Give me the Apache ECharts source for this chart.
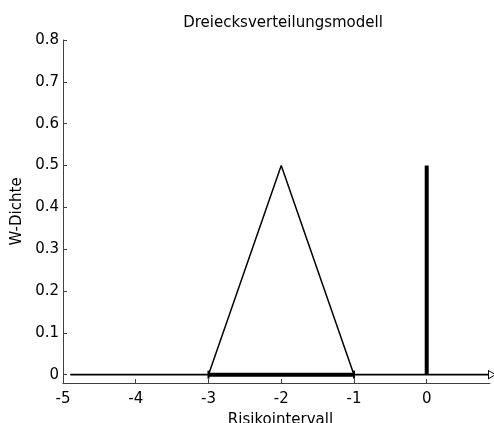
<!DOCTYPE html>
<html>
<head>
<meta charset="utf-8">
<script src="https://cdn.jsdelivr.net/npm/echarts@6/dist/echarts.min.js"></script>
<style>
html,body{margin:0;padding:0;background:#fff;}
#c{width:494px;height:423px;}
</style>
</head>
<body>
<div id="c"></div>
<script>
// Data
const xTicks = [-5, -4, -3, -2, -1, 0];
const yTicks = [0, 0.1, 0.2, 0.3, 0.4, 0.5, 0.6, 0.7, 0.8];
const baseLine = [[-4.9, 0], [0.87, 0]];
const intervalSegment = [[-3, 0], [-1, 0]];
const triangle = [[-3, 0], [-2, 0.5], [-1, 0]];
const spike = [[0, 0], [0, 0.5]];

const FONT = 'DejaVu Sans, Liberation Sans, Arial, sans-serif';
const FS = 15;
const axisColor = '#404040';

const chart = echarts.init(document.getElementById('c'));
chart.setOption({
  animation: false,
  backgroundColor: '#fff',
  title: {
    text: 'Dreiecksverteilungsmodell',
    left: 278, top: 11, textAlign: 'center',
    textStyle: { fontFamily: FONT, fontSize: FS, fontWeight: 'normal', color: '#000' }
  },
  grid: { left: 63, right: 4, top: 40, bottom: 40, containLabel: false, outerBoundsMode: 'none' },
  xAxis: {
    type: 'value', min: -5, max: 0.87,
    name: 'Risikointervall', nameLocation: 'middle', nameGap: 30,
    nameTextStyle: { fontFamily: FONT, fontSize: FS, color: '#000', padding: [0, 0, 0, 8] },
    splitLine: { show: false },
    axisLine: { show: true, onZero: false, lineStyle: { color: axisColor, width: 1 } },
    axisTick: { show: true, inside: true, length: 4, customValues: xTicks, lineStyle: { color: axisColor } },
    axisLabel: { customValues: xTicks, margin: 9, fontFamily: FONT, fontSize: FS, color: '#000' }
  },
  yAxis: {
    type: 'value', min: -0.02, max: 0.8,
    name: 'W-Dichte', nameLocation: 'middle', nameGap: 33,
    nameTextStyle: { fontFamily: FONT, fontSize: FS, color: '#000' },
    splitLine: { show: false },
    axisLine: { show: true, onZero: false, lineStyle: { color: axisColor, width: 1 } },
    axisTick: { show: true, inside: true, length: 4, customValues: yTicks, lineStyle: { color: axisColor } },
    axisLabel: { customValues: yTicks, margin: 4, fontFamily: FONT, fontSize: FS, color: '#000',
      formatter: v => (Math.round(v * 10) / 10).toString() }
  },
  series: [
    {
      type: 'line', data: baseLine, lineStyle: { color: '#000', width: 1.6 },
      symbol: 'none', silent: true, z: 2,
      markPoint: {
        symbol: 'path://M0,0 L10,5 L0,10 Z', symbolSize: [7, 8], symbolOffset: [2, 0],
        itemStyle: { color: '#fff', borderColor: '#000', borderWidth: 1 },
        label: { show: false },
        data: [{ coord: baseLine[1] }]
      }
    },
    {
      type: 'line', data: intervalSegment, lineStyle: { color: '#000', width: 4 },
      symbol: 'rect', symbolSize: [2, 8], showSymbol: true,
      itemStyle: { color: '#000' }, silent: true, z: 3
    },
    {
      type: 'line', data: triangle, lineStyle: { color: '#000', width: 1.5 },
      symbol: 'none', silent: true, z: 3
    },
    {
      type: 'line', data: spike, lineStyle: { color: '#000', width: 4 },
      symbol: 'none', silent: true, z: 3
    }
  ]
});
</script>
</body>
</html>
